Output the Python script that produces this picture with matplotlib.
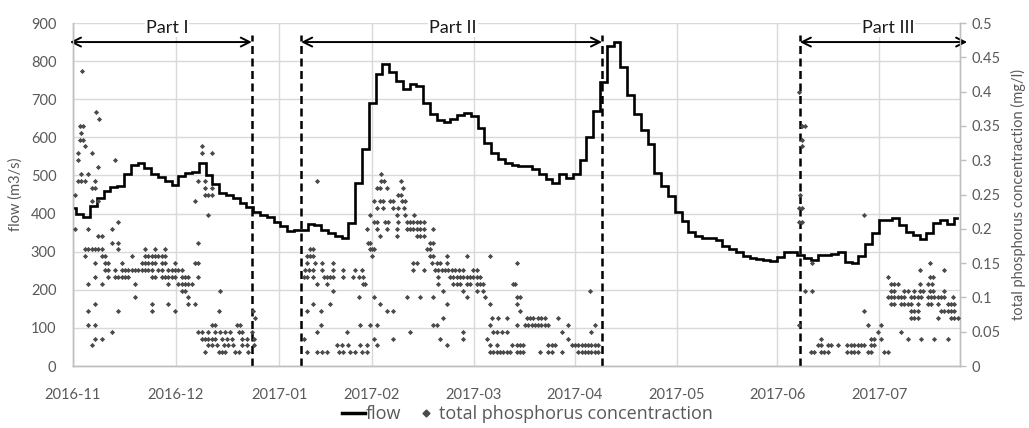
import matplotlib
matplotlib.use("Agg")
import matplotlib.pyplot as plt
from matplotlib.lines import Line2D
from matplotlib.ticker import FuncFormatter

plt.rcParams['font.family'] = ['Lato', 'DejaVu Sans']

# ---------------- data ----------------
# x axis: sample position (day index of the series, 2016-11 = 0)
month_labels = ['2016-11', '2016-12', '2017-01', '2017-02', '2017-03',
                '2017-04', '2017-05', '2017-06', '2017-07']
month_pos = [0, 30.3, 60.6, 87.9, 117.9, 147.6, 177.6, 207.1, 237.1]
x_end = 260.9

flow_days = list(range(0, 262, 2))
flow_values = [
    415, 400, 392, 420, 440, 458, 469, 473, 505, 528,
    532, 520, 505, 495, 485, 476, 498, 507, 510, 533,
    500, 478, 455, 450, 440, 428, 416, 405, 397, 390,
    378, 368, 355, 357, 358, 372, 370, 358, 350, 340,
    337, 375, 480, 570, 690, 765, 792, 772, 748, 727,
    740, 735, 690, 662, 645, 640, 648, 658, 665, 655,
    625, 586, 560, 543, 533, 528, 525, 525, 518, 503,
    490, 480, 505, 492, 505, 540, 600, 670, 745, 840,
    850, 785, 710, 660, 618, 582, 507, 472, 445, 405,
    380, 352, 340, 337, 335, 331, 314, 307, 300, 288,
    284, 281, 278, 275, 285, 298, 300, 290, 283, 279,
    290, 292, 294, 300, 272, 270, 288, 320, 350, 384,
    382, 388, 370, 352, 345, 334, 350, 375, 384, 372,
    388,
]

# total phosphorus concentration (mg/l): level -> days with that reading
tp_part1 = {
    0.43: [2.6], 0.37: [6.9], 0.36: [7.6], 0.35: [2.0, 3.0], 0.34: [2.5],
    0.33: [2.0, 3.0], 0.32: [3.5, 37.8], 0.31: [1.6, 5.5, 37.8, 40.8],
    0.30: [1.6, 12.5], 0.29: [7.5], 0.28: [2.5, 4.5],
    0.27: [1.6, 2.5, 3.5, 6.5, 36.9, 38.8], 0.26: [5.5, 6.5, 38.8, 40.8],
    0.25: [0.6, 38.8, 39.8, 40.8], 0.24: [5.5, 7.5, 35.9], 0.22: [39.6],
    0.21: [13.3], 0.20: [0.6, 4.5, 11.4], 0.19: [7.5, 8.4],
    0.18: [11.4, 13.3, 36.9],
    0.17: [3.5, 4.5, 5.5, 6.5, 7.5, 8.4, 13.3, 21.2, 24.1, 27.1],
    0.16: [3.5, 8.4, 9.4, 17.3, 21.2, 22.2, 23.2, 24.1, 25.1, 26.1, 27.1],
    0.15: [6.5, 9.4, 10.4, 14.3, 20.2, 21.2, 22.2, 23.2, 24.1, 26.1, 27.1,
           30.0, 35.9, 36.9],
    0.14: [9.4, 10.4, 12.4, 14.3, 15.3, 16.3, 17.3, 18.2, 19.2, 20.2, 21.2,
           22.2, 23.1, 25.1, 26.1, 28.0, 29.0, 30.0, 31.0, 32.0],
    0.13: [6.5, 10.4, 12.4, 13.3, 14.3, 15.3, 16.3, 23.1, 24.1, 26.1, 27.1,
           28.0, 29.0, 30.0, 32.0, 33.0, 33.9, 36.9],
    0.12: [4.5, 8.4, 18.2, 28.0, 31.0, 32.0, 33.0, 33.9, 34.9],
    0.11: [32.0, 33.0, 43.3], 0.10: [18.2, 33.9],
    0.09: [6.5, 23.1, 28.0, 33.9, 35.9],
    0.08: [4.5, 13.3, 23.1, 30.0, 42.8, 53.0], 0.07: [53.4],
    0.06: [4.5, 6.5, 40.8, 41.8, 48.2, 49.2],
    0.05: [11.4, 36.9, 37.8, 39.8, 41.8, 43.3, 44.7, 46.2, 48.7, 49.6, 52.6],
    0.04: [6.5, 8.4, 37.8, 38.8, 39.8, 40.8, 41.8, 43.8, 45.2, 46.7, 49.6,
           51.1, 53.1],
    0.03: [5.5, 39.8, 40.8, 42.3, 44.3, 45.7, 47.2, 49.6, 51.1, 53.1],
    0.02: [38.8, 42.8, 43.8, 44.7, 47.7, 48.7, 51.6],
}
tp_part2 = {
    0.28: [90.6], 0.27: [71.7, 90.6, 91.6, 96.5],
    0.26: [89.3, 90.3, 92.3, 97.2], 0.25: [95.7, 96.5],
    0.24: [88.4, 90.3, 91.3, 93.3, 94.2, 96.7, 97.7],
    0.23: [89.3, 91.3, 94.2, 95.7, 97.4], 0.22: [87.4, 95.2, 97.7, 100.4],
    0.21: [88.4, 89.3, 91.8, 92.8, 95.5, 98.2, 99.1, 100.1, 101.1, 102.1, 103.1],
    0.20: [86.4, 89.3, 92.3, 95.2, 98.2, 99.1, 100.1, 101.1, 102.1, 103.1, 106.0],
    0.19: [90.3, 95.2, 101.1, 102.1, 103.1], 0.18: [86.9, 87.4, 105.0, 106.0],
    0.17: [69.7, 70.7, 87.4, 87.9, 88.4, 104.0, 105.0],
    0.16: [68.8, 69.7, 70.7, 87.9, 105.0, 106.0, 109.9, 115.8, 122.7],
    0.15: [68.8, 71.2, 73.2, 76.6, 100.1, 101.1, 105.5, 107.0, 108.0, 109.9, 130.5],
    0.14: [68.3, 69.3, 70.7, 73.2, 76.6, 79.5, 83.0, 84.9, 100.1, 103.1, 106.5,
           107.5, 108.5, 109.4, 110.4, 111.4, 112.4, 113.4, 114.8, 117.8, 118.7],
    0.13: [67.8, 68.8, 70.7, 73.7, 74.6, 75.6, 76.6, 79.5, 82.5, 84.0, 85.4,
           107.5, 110.9, 111.9, 112.9, 113.8, 114.8, 115.8, 116.8, 117.8, 118.7,
           119.7],
    0.12: [71.7, 74.6, 85.4, 85.9, 107.5, 111.9, 112.9, 113.8, 115.8, 116.8,
           118.7, 119.7, 120.7, 129.5, 130.0],
    0.11: [76.6, 108.9, 114.8, 118.7, 120.7, 152.1],
    0.10: [84.0, 88.4, 98.2, 102.1, 106.0, 115.8, 121.2, 130.5, 131.5],
    0.09: [70.7, 75.6, 90.3, 109.9, 122.7, 130.5],
    0.08: [68.8, 73.0, 92.3, 94.2, 131.5],
    0.07: [108.9, 123.2, 125.1, 127.6, 133.4, 134.4, 135.4, 136.9, 137.8,
           138.8, 142.7],
    0.06: [73.0, 84.4, 87.4, 89.3, 106.0, 107.0, 122.7, 130.5, 132.9, 133.9,
           134.9, 135.9, 136.9, 137.8, 138.8, 139.8, 145.7, 153.5],
    0.05: [71.7, 80.5, 99.1, 114.8, 123.6, 124.6, 126.1, 127.6, 143.7, 152.5],
    0.04: [67.8, 88.4, 94.2, 108.0, 114.8, 121.7, 145.7],
    0.03: [77.6, 79.1, 81.0, 84.4, 86.4, 89.3, 109.9, 122.7, 124.6, 129.0,
           130.5, 131.5, 132.5, 139.8, 140.8, 141.8, 146.7, 147.6, 148.6, 149.6,
           150.6, 151.6, 152.5, 153.5, 154.5],
    0.02: [68.8, 71.7, 73.2, 74.6, 78.1, 79.5, 81.5, 83.0, 84.9, 86.4, 122.7,
           123.6, 124.6, 125.6, 126.6, 127.6, 128.5, 130.5, 131.5, 132.5, 137.4,
           139.8, 140.8, 143.7, 148.6, 149.6, 150.6, 151.6, 152.5, 153.5, 154.5],
}
tp_part3 = {
    0.40: [213.4], 0.35: [214.3, 215.3], 0.33: [214.3], 0.32: [214.3],
    0.25: [213.8], 0.23: [213.4, 214.3], 0.22: [232.8], 0.21: [213.4, 214.3],
    0.15: [217.3, 252.1], 0.14: [249.1, 256.3], 0.13: [239.6, 252.1, 253.0],
    0.12: [240.6, 241.6, 242.6, 249.1, 251.6, 252.6],
    0.11: [215.3, 217.3, 240.6, 241.6, 244.5, 245.5, 247.5, 249.1, 250.1,
           252.1, 253.0, 256.3],
    0.10: [239.6, 240.6, 241.6, 242.6, 243.5, 244.5, 246.5, 247.5, 248.4,
           249.4, 251.4, 252.4, 253.3, 254.3, 255.3, 256.3, 258.9],
    0.09: [240.6, 241.6, 243.5, 244.5, 245.5, 246.5, 248.4, 251.4, 252.4,
           254.3, 257.3, 258.2, 259.2],
    0.08: [232.8, 246.5, 247.5, 248.4, 255.3, 256.3, 257.3, 258.2, 259.2],
    0.07: [246.5, 247.5, 248.4, 254.3, 258.2, 259.2, 260.2],
    0.06: [213.4, 233.7, 237.7], 0.05: [236.7, 243.5],
    0.04: [220.0, 234.7, 235.7, 237.7, 245.5, 249.4, 253.3, 257.3],
    0.03: [219.0, 220.0, 222.0, 223.0, 224.9, 227.8, 228.8, 229.8, 230.8,
           231.8, 232.8, 234.7, 235.7],
    0.02: [217.1, 218.0, 220.0, 221.0, 222.0, 227.8, 228.8, 229.8, 230.8,
           233.7, 234.7, 238.6, 239.6],
}

# study periods (day index bounds)
part_names = ['Part I', 'Part II', 'Part III']
part_start = [-0.9, 67.1, 213.8]
part_end = [52.6, 155.6, 263.0]
part_label_x = [27.6, 111.8, 239.7]
dash_days = [52.6, 67.1, 155.6, 213.8]

# ---------------- plotting ----------------
tp_x, tp_y = [], []
for part in (tp_part1, tp_part2, tp_part3):
    for level, days in part.items():
        for d in days:
            tp_x.append(d)
            tp_y.append(level)

fig = plt.figure(figsize=(10.29, 4.28), dpi=100)
ax = fig.add_axes([73 / 1029, 1 - 366 / 428, 887 / 1029, 343 / 428])
ax2 = ax.twinx()

grid_c = '#d9d9d9'
text_c = '#595959'

ax.set_xlim(0, x_end)
ax.set_ylim(0, 900)
ax2.set_ylim(0, 0.5)

ax.set_yticks(range(0, 901, 100))
ax.set_xticks(month_pos)
ax.set_xticklabels(month_labels)
ax.grid(True, color=grid_c, lw=1.0)
ax.set_axisbelow(True)

ax2.set_yticks([i * 0.05 for i in range(11)])
ax2.yaxis.set_major_formatter(FuncFormatter(lambda v, p: f'{round(v, 2):g}'))

for a in (ax, ax2):
    a.spines['top'].set_visible(False)
    for s in ['left', 'bottom', 'right']:
        a.spines[s].set_color('#bfbfbf')
        a.spines[s].set_linewidth(1.0)

ax.tick_params(axis='y', length=0, pad=12, labelsize=10.5, labelcolor=text_c)
ax.tick_params(axis='x', length=0, pad=16, labelsize=10.5, labelcolor=text_c)
ax2.tick_params(axis='y', length=4, width=1, color='#bfbfbf', pad=4,
                labelsize=10.5, labelcolor=text_c)

ax.set_ylabel('flow (m3/s)', fontsize=10.5, color=text_c, labelpad=6)
ax2.set_ylabel('total phosphorus concentraction (mg/l)', fontsize=10.5,
               color=text_c, labelpad=8)

ax.plot(flow_days, flow_values, color='black', lw=1.9, drawstyle='steps-mid',
        zorder=3, solid_joinstyle='miter')
ax2.scatter(tp_x, tp_y, marker='D', s=7, color='#4a4a4a', linewidths=0,
            zorder=4)

for d in dash_days:
    ax.plot([d, d], [0, 868], color='black', lw=1.8, ls=(0, (3.2, 1.8)),
            zorder=5, clip_on=False)

for name, x0, x1, xl in zip(part_names, part_start, part_end, part_label_x):
    ax.annotate('', xy=(x1, 850), xytext=(x0, 850),
                arrowprops=dict(arrowstyle='<->', color='black', lw=1.4,
                                shrinkA=0, shrinkB=0, mutation_scale=16),
                annotation_clip=False, zorder=6)
    ax.text(xl, 887, name, ha='center', va='center', fontsize=13,
            color='#1a1a1a', zorder=6,
            bbox=dict(boxstyle='square,pad=0.05', fc='white', ec='none'))

handles = [Line2D([0], [0], color='black', lw=2.5),
           Line2D([0], [0], color='#4a4a4a', marker='D', ms=3.5, ls='none')]
fig.legend(handles, ['flow', 'total phosphorus concentraction'],
           loc='center', bbox_to_anchor=(527 / 1029, 1 - 414 / 428), ncol=2,
           frameon=False, prop={'family': ['Open Sans', 'DejaVu Sans'], 'size': 13},
           handlelength=1.3, handletextpad=0.05, columnspacing=0.7,
           labelcolor=text_c)

fig.savefig('out.png', dpi=100)
